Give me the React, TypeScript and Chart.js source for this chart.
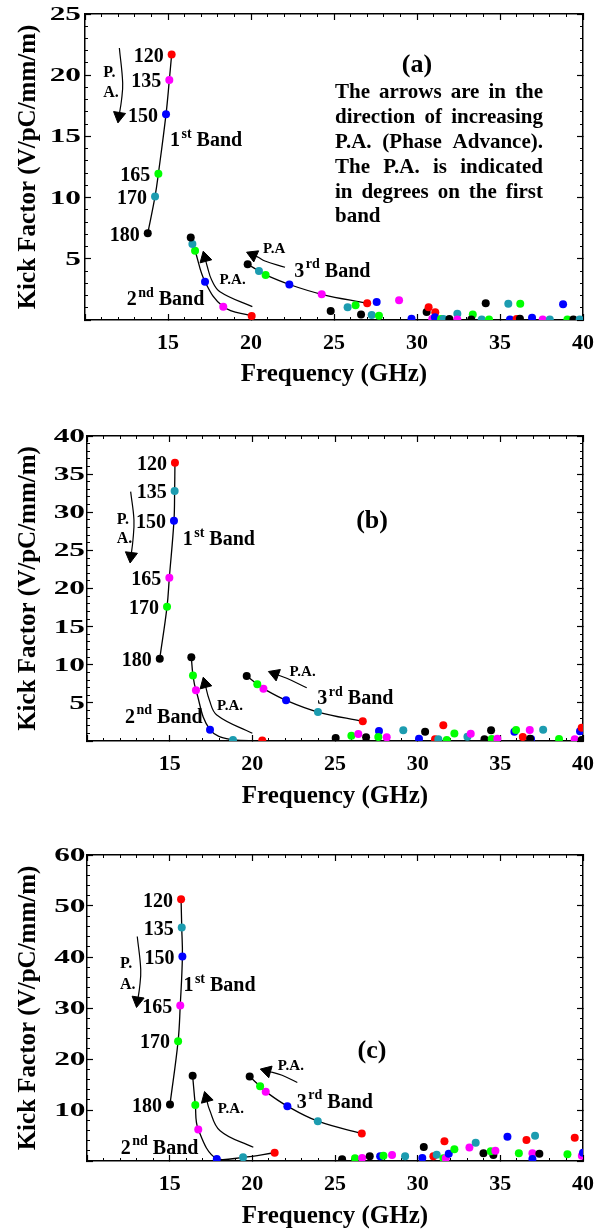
import React, { useEffect, useRef } from "react";
import { Chart, registerables } from "chart.js";

Chart.register(...registerables);

const SERIF = "'Liberation Serif', 'Times New Roman', Times, serif";

// ---------------- shared ----------------
const PA_DEG = [120, 135, 150, 165, 170, 180];
const BAND_ORD = ["1", "2", "3"];
const BAND_SUP = ["st", "nd", "rd"];
const X_TITLE = "Frequency (GHz)";
const Y_TITLE = "Kick Factor (V/pC/mm/m)";

const RED = "#ff0000";
const MAGENTA = "#ff00ff";
const BLUE = "#0000ff";
const GREEN = "#00ff00";
const TEAL = "#1c9cb0";
const BLACK = "#000000";

// ---------------- panel (a) ----------------
// band points in PA order 120,135,150,165,170,180
const A_B1_F = [15.22, 15.08, 14.88, 14.42, 14.22, 13.78];
const A_B1_K = [21.7, 19.6, 16.8, 11.95, 10.1, 7.08];
const A_B2_F = [20.04, 18.33, 17.23, 16.63, 16.47, 16.37];
const A_B2_K = [0.33, 1.09, 3.13, 5.66, 6.2, 6.73];
const A_B3_F = [27.0, 24.26, 22.31, 20.88, 20.48, 19.8];
const A_B3_K = [1.36, 2.1, 2.9, 3.68, 4.0, 4.55];
const A_PA_COLORS = [RED, MAGENTA, BLUE, GREEN, TEAL, BLACK];
// higher order modes
const A_HOM_F = [24.8, 25.82, 26.3, 26.63, 27.57, 27.27, 27.71, 28.92, 29.67, 30.58, 30.7, 31.1, 30.92, 31.08, 31.45, 31.59, 31.95, 32.43, 32.43, 33.36, 33.27, 33.9, 34.34, 34.14, 35.5, 36.22, 35.6, 36.0, 36.2, 36.93, 37.57, 38.0, 38.8, 39.06, 39.42, 39.8];
const A_HOM_K = [0.74, 1.04, 1.2, 0.44, 1.47, 0.41, 0.35, 1.61, 0.11, 0.65, 1.04, 0.63, 0.08, 0.22, 0.08, 0.08, 0.08, 0.52, 0.05, 0.44, 0.05, 0.05, 0.05, 1.36, 1.33, 1.33, 0.05, 0.08, 0.11, 0.19, 0.05, 0.05, 1.28, 0.05, 0.05, 0.05];
const A_HOM_PA = [180, 170, 165, 180, 150, 170, 165, 135, 150, 180, 120, 120, 135, 150, 165, 170, 180, 170, 135, 165, 180, 170, 165, 180, 170, 165, 150, 120, 180, 150, 135, 170, 150, 165, 180, 170];
// annotation arrows (curve points, last = arrow head)
const A_ARROW_1 = [[12.07, 22.22], [12.27, 19.36], [12.2, 17.97], [12.05, 16.67]];
const A_ARROW_2 = [[20.08, 1.09], [18.13, 2.31], [17.63, 3.27], [17.37, 4.35], [17.23, 5.07]];
const A_ARROW_3 = [[22.05, 4.31], [20.84, 4.82], [20.44, 5.12], [20.12, 5.31]];
const A_TAG = "(a)";
const A_TAG_AT = [30.0, 20.83];
const A_BAND_LABEL_AT = [[15.12, 14.62], [12.51, 1.63], [22.61, 3.95]];
const A_PA_TEXT = ["P.", "A.", "P.A.", "P.A"];
const A_PA_TEXT_AT = [[11.1, 20.18], [11.1, 18.55], [18.89, 3.27], [21.39, 5.78]];
const A_NOTE = [
  "The arrows are in the",
  "direction of increasing",
  "P.A. (Phase Advance).",
  "The P.A. is indicated",
  "in degrees on the first",
  "band",
];
const A_NOTE_AT = [25.06, 18.55, 37.59];

// ---------------- panel (b) ----------------
const B_B1_F = [15.32, 15.3, 15.26, 14.98, 14.84, 14.4];
const B_B1_K = [36.5, 32.8, 28.9, 21.4, 17.6, 10.8];
const B_B2_F = [20.6, 18.83, 17.44, 16.59, 16.41, 16.31];
const B_B2_K = [0.05, 0.13, 1.49, 6.65, 8.6, 11.0];
const B_B3_F = [26.68, 23.97, 22.04, 20.67, 20.3, 19.66];
const B_B3_K = [2.58, 3.8, 5.33, 6.86, 7.43, 8.52];
const BC_PA_COLORS = [RED, TEAL, BLUE, MAGENTA, GREEN, BLACK];
const B_HOM_F = [25.04, 25.99, 26.41, 26.88, 27.66, 27.62, 28.13, 29.13, 30.08, 30.45, 31.05, 31.25, 31.55, 31.76, 32.22, 33.01, 33.21, 34.04, 34.44, 34.48, 34.82, 35.85, 35.95, 36.36, 36.78, 36.86, 36.8, 37.59, 38.55, 39.5, 39.82, 39.92, 39.92];
const B_HOM_K = [0.39, 0.7, 0.92, 0.48, 1.31, 0.52, 0.48, 1.4, 0.3, 1.22, 0.22, 0.22, 2.05, 0.13, 1.0, 0.57, 0.96, 0.22, 1.4, 0.26, 0.3, 1.22, 1.44, 0.52, 1.44, 0.26, 0.3, 1.49, 0.26, 0.22, 1.27, 1.75, 0.13];
const B_HOM_PA = [180, 170, 165, 180, 150, 170, 165, 135, 150, 180, 120, 135, 120, 170, 170, 135, 165, 180, 180, 170, 165, 150, 170, 120, 165, 150, 180, 135, 170, 165, 150, 120, 180];
const B_ARROW_1 = [[12.64, 32.7], [12.84, 28.98], [12.78, 26.36], [12.66, 24.26]];
const B_ARROW_2 = [[20.0, 1.01], [17.85, 3.41], [17.4, 5.38], [17.14, 7.48]];
const B_ARROW_3 = [[23.29, 6.99], [22.08, 8.22], [21.37, 8.79]];
const B_TAG = "(b)";
const B_TAG_AT = [27.24, 28.85];
const B_BAND_LABEL_AT = [[15.79, 26.36], [12.3, 3.06], [23.93, 5.47]];
const B_PA_TEXT = ["P.", "A.", "P.A.", "P.A."];
const B_PA_TEXT_AT = [[11.8, 28.98], [11.8, 26.45], [18.65, 4.59], [23.04, 9.01]];

// ---------------- panel (c) ----------------
const C_B1_F = [15.69, 15.73, 15.77, 15.64, 15.51, 15.02];
const C_B1_K = [51.3, 45.8, 40.1, 30.5, 23.5, 11.1];
const C_B2_F = [21.35, 19.44, 17.85, 16.73, 16.55, 16.39];
const C_B2_K = [1.62, 0.72, 0.4, 6.2, 11.0, 16.7];
const C_B3_F = [26.62, 23.96, 22.12, 20.81, 20.47, 19.84];
const C_B3_K = [5.4, 7.8, 10.75, 13.6, 14.65, 16.55];
const C_HOM_F = [25.43, 26.21, 26.64, 27.1, 27.73, 27.93, 28.45, 29.24, 30.28, 30.37, 30.95, 31.15, 31.62, 31.56, 31.7, 31.88, 32.22, 33.13, 33.51, 33.98, 34.58, 34.42, 34.7, 35.43, 36.12, 36.58, 37.1, 36.94, 36.94, 37.36, 39.06, 39.5, 39.93, 40.0];
const C_HOM_K = [0.33, 0.52, 0.59, 0.92, 0.92, 1.04, 1.17, 0.92, 0.59, 2.74, 0.92, 1.23, 3.85, 0.52, 0.52, 1.43, 2.28, 2.67, 3.58, 1.5, 1.17, 1.9, 2.01, 4.75, 1.5, 4.1, 4.94, 1.5, 0.4, 1.43, 1.3, 4.55, 1.04, 1.62];
const C_HOM_PA = [180, 170, 165, 180, 150, 170, 165, 135, 150, 180, 120, 135, 120, 170, 165, 150, 170, 165, 135, 180, 180, 170, 165, 150, 170, 120, 135, 165, 150, 180, 170, 120, 165, 150];
const C_ARROW_1 = [[13.04, 44.03], [13.25, 37.52], [13.18, 34.0], [13.06, 31.46]];
const C_ARROW_2 = [[20.06, 2.68], [18.05, 5.92], [17.4, 10.16], [17.22, 12.31]];
const C_ARROW_3 = [[22.72, 15.38], [21.8, 16.81], [20.89, 17.65]];
const C_TAG = "(c)";
const C_TAG_AT = [27.24, 21.5];
const C_BAND_LABEL_AT = [[15.83, 34.26], [12.04, 2.48], [22.69, 11.47]];
const C_PA_TEXT = ["P.", "A.", "P.A.", "P.A."];
const C_PA_TEXT_AT = [[12.0, 38.7], [12.0, 34.6], [18.7, 10.16], [22.33, 18.62]];

const PA_TEXT_ALIGN = ["left", "left", "center", "center"];

type Panel = {
  key: string;
  top: number;
  height: number;
  padTop: number;
  axisLeft: number;
  xAxisH: number;
  xTitlePad: number;
  yMax: number;
  yMajor: number;
  yMinor: number;
  yLabGap: number;
  bands: number[][][];
  hom: number[][];
  colors: string[];
  arrows: number[][][];
  tag: string;
  tagAt: number[];
  bandLabelAt: number[][];
  paText: string[];
  paTextAt: number[][];
  note?: string[];
  noteAt?: number[];
};

const PANELS: Panel[] = [
  {
    key: "a", top: 0, height: 400, padTop: 14, axisLeft: 85, xAxisH: 80, xTitlePad: 12.5,
    yMax: 25, yMajor: 5, yMinor: 1, yLabGap: 4,
    bands: [[A_B1_F, A_B1_K], [A_B2_F, A_B2_K], [A_B3_F, A_B3_K]],
    hom: [A_HOM_F, A_HOM_K, A_HOM_PA], colors: A_PA_COLORS,
    arrows: [A_ARROW_1, A_ARROW_2, A_ARROW_3],
    tag: A_TAG, tagAt: A_TAG_AT, bandLabelAt: A_BAND_LABEL_AT,
    paText: A_PA_TEXT, paTextAt: A_PA_TEXT_AT, note: A_NOTE, noteAt: A_NOTE_AT,
  },
  {
    key: "b", top: 420, height: 400, padTop: 16, axisLeft: 87, xAxisH: 79, xTitlePad: 10.5,
    yMax: 40, yMajor: 5, yMinor: 1, yLabGap: 2,
    bands: [[B_B1_F, B_B1_K], [B_B2_F, B_B2_K], [B_B3_F, B_B3_K]],
    hom: [B_HOM_F, B_HOM_K, B_HOM_PA], colors: BC_PA_COLORS,
    arrows: [B_ARROW_1, B_ARROW_2, B_ARROW_3],
    tag: B_TAG, tagAt: B_TAG_AT, bandLabelAt: B_BAND_LABEL_AT,
    paText: B_PA_TEXT, paTextAt: B_PA_TEXT_AT,
  },
  {
    key: "c", top: 840, height: 390, padTop: 15, axisLeft: 87, xAxisH: 69, xTitlePad: 0.5,
    yMax: 60, yMajor: 10, yMinor: 2, yLabGap: 1.5,
    bands: [[C_B1_F, C_B1_K], [C_B2_F, C_B2_K], [C_B3_F, C_B3_K]],
    hom: [C_HOM_F, C_HOM_K, C_HOM_PA], colors: BC_PA_COLORS,
    arrows: [C_ARROW_1, C_ARROW_2, C_ARROW_3],
    tag: C_TAG, tagAt: C_TAG_AT, bandLabelAt: C_BAND_LABEL_AT,
    paText: C_PA_TEXT, paTextAt: C_PA_TEXT_AT,
  },
];

function buildScales(p: Panel) {
  // a tall line height pushes the labels down without inflating the side padding
  const tickFont = { family: SERIF, size: 22, weight: "bold" as const, lineHeight: 2.2 };
  const titleFont = { family: SERIF, size: 25, weight: "bold" as const, lineHeight: 1 };
  const major = { display: true, drawOnChartArea: false, drawTicks: true, tickLength: -6, tickColor: "#000", tickWidth: 1.2, color: "#000" };
  const minor = { ...major, tickLength: -3, tickWidth: 1 };
  const border = { display: true, color: "#000", width: 1.5 };
  const noBorder = { display: false };
  const hidden = (step: number) => ({ display: false, stepSize: step, autoSkip: false, maxTicksLimit: 200, padding: 0 });
  const zeroH = (s: any) => { s.height = 0; };
  const zeroW = (s: any) => { s.width = 0; };
  return {
    x: {
      type: "linear", axis: "x", position: "bottom", weight: 2, min: 10, max: 40,
      ticks: {
        stepSize: 5, autoSkip: false, maxRotation: 0, padding: 5, font: tickFont, color: "#000", maxTicksLimit: 200,
        callback: (v: number) => (v === 10 ? "" : String(v)),
      },
      grid: major, border,
      title: { display: true, text: X_TITLE, color: "#000", font: titleFont, padding: { top: 0, bottom: p.xTitlePad } },
      afterFit: (s: any) => { s.height = p.xAxisH; },
    },
    xm: { type: "linear", axis: "x", position: "bottom", weight: 1, min: 10, max: 40, ticks: hidden(1), grid: minor, border: noBorder, afterFit: zeroH },
    xt: { type: "linear", axis: "x", position: "top", weight: 1, min: 10, max: 40, ticks: hidden(5), grid: major, border, afterFit: zeroH },
    xtm: { type: "linear", axis: "x", position: "top", weight: 2, min: 10, max: 40, ticks: hidden(1), grid: minor, border: noBorder, afterFit: zeroH },
    y: {
      type: "linear", axis: "y", position: "left", weight: 2, min: 0, max: p.yMax,
      // tick labels are painted (horizontally widened) by the notes plugin from this scale's ticks
      ticks: { display: false, stepSize: p.yMajor, autoSkip: false, maxTicksLimit: 200, padding: 0 },
      grid: major, border,
      title: { display: true, text: Y_TITLE, color: "#000", font: titleFont, padding: { top: 16.5, bottom: 0 } },
      afterFit: (s: any) => { s.width = p.axisLeft; },
    },
    ym: { type: "linear", axis: "y", position: "left", weight: 1, min: 0, max: p.yMax, ticks: hidden(p.yMinor), grid: minor, border: noBorder, afterFit: zeroW },
    yr: { type: "linear", axis: "y", position: "right", weight: 1, min: 0, max: p.yMax, ticks: hidden(p.yMajor), grid: major, border, afterFit: zeroW },
    yrm: { type: "linear", axis: "y", position: "right", weight: 2, min: 0, max: p.yMax, ticks: hidden(p.yMinor), grid: minor, border: noBorder, afterFit: zeroW },
  };
}

function buildDatasets(p: Panel) {
  const datasets: any[] = [];
  // band curves
  p.bands.forEach(([fs, ks]) => {
    datasets.push({
      data: fs.map((f, i) => ({ x: f, y: ks[i] })),
      borderColor: "#000", borderWidth: 1.3, tension: 0.4, pointRadius: 0, showLine: true,
      fill: false, order: 2, xAxisID: "x", yAxisID: "y",
    });
  });
  // arrows
  p.arrows.forEach((path) => {
    const n = path.length;
    datasets.push({
      data: path.map(([f, k]) => ({ x: f, y: k })),
      borderColor: "#000", borderWidth: 1.2, tension: 0.4, showLine: true, fill: false,
      pointStyle: "triangle",
      pointRadius: (c: any) => (c.dataIndex === n - 1 ? 7 : 0),
      pointBackgroundColor: "#000", pointBorderColor: "#000", pointBorderWidth: 1,
      pointRotation: (c: any) => {
        const i = c.dataIndex;
        if (i === 0) return 0;
        const xs = c.chart.scales.x, ys = c.chart.scales.y;
        const dx = xs.getPixelForValue(path[i][0]) - xs.getPixelForValue(path[i - 1][0]);
        const dy = ys.getPixelForValue(path[i][1]) - ys.getPixelForValue(path[i - 1][1]);
        return (Math.atan2(dy, dx) * 180) / Math.PI + 90;
      },
      order: 2, clip: false, xAxisID: "x", yAxisID: "y",
    });
  });
  // mode points
  const pts: any[] = [];
  const cols: string[] = [];
  p.bands.forEach(([fs, ks]) => {
    fs.forEach((f, i) => { pts.push({ x: f, y: ks[i] }); cols.push(p.colors[i]); });
  });
  const [hf, hk, hpa] = p.hom;
  hf.forEach((f, i) => { pts.push({ x: f, y: hk[i] }); cols.push(p.colors[PA_DEG.indexOf(hpa[i])]); });
  datasets.push({
    data: pts, showLine: false, pointRadius: 4, pointStyle: "circle",
    pointBackgroundColor: cols, pointBorderColor: cols, pointBorderWidth: 0,
    order: 0, clip: 0, xAxisID: "x", yAxisID: "y",
  });
  return datasets;
}

function notesPlugin(p: Panel) {
  return {
    id: "notes_" + p.key,
    afterDraw(chart: any) {
      const ctx = chart.ctx as CanvasRenderingContext2D;
      const xs = chart.scales.x, ys = chart.scales.y;
      const X = (f: number) => xs.getPixelForValue(f);
      const Y = (k: number) => ys.getPixelForValue(k);
      ctx.save();
      ctx.fillStyle = "#000";
      ctx.textBaseline = "middle";

      // y tick labels, from the y scale's own ticks (wide lettering as in the original)
      ctx.font = `bold 19px ${SERIF}`;
      ctx.textAlign = "right";
      ys.ticks.forEach((t: any) => {
        if (t.value === 0) return;
        ctx.save();
        ctx.translate(chart.chartArea.left - p.yLabGap, ys.getPixelForValue(t.value) + 1);
        ctx.scale(1.65, 1);
        ctx.fillText(String(t.value), 0, 0);
        ctx.restore();
      });

      // phase advance values on the first band
      ctx.font = `bold 20px ${SERIF}`;
      ctx.textAlign = "right";
      const [f1, k1] = p.bands[0];
      f1.forEach((f, i) => ctx.fillText(String(PA_DEG[i]), X(f) - 8, Y(k1[i]) + 2));
      // band labels
      ctx.textAlign = "left";
      p.bandLabelAt.forEach(([f, k], i) => {
        let x = X(f);
        const y = Y(k);
        ctx.font = `bold 20px ${SERIF}`;
        ctx.fillText(BAND_ORD[i], x, y);
        x += ctx.measureText(BAND_ORD[i]).width + 1.5;
        ctx.font = `bold 14px ${SERIF}`;
        ctx.fillText(BAND_SUP[i], x, y - 7);
        x += ctx.measureText(BAND_SUP[i]).width;
        ctx.font = `bold 20px ${SERIF}`;
        ctx.fillText(" Band", x, y);
      });
      // panel tag
      ctx.font = `bold 26px ${SERIF}`;
      ctx.textAlign = "center";
      ctx.fillText(p.tag, X(p.tagAt[0]), Y(p.tagAt[1]));
      // P.A. labels near arrows
      p.paText.forEach((t, i) => {
        ctx.font = i < 2 ? `bold 16px ${SERIF}` : `bold 15px ${SERIF}`;
        ctx.textAlign = PA_TEXT_ALIGN[i] as CanvasTextAlign;
        ctx.fillText(t, X(p.paTextAt[i][0]), Y(p.paTextAt[i][1]));
      });
      // justified note
      if (p.note && p.noteAt) {
        ctx.font = `bold 21px ${SERIF}`;
        ctx.textAlign = "left";
        const x0 = X(p.noteAt[0]);
        const x1 = X(p.noteAt[2]);
        const y0 = Y(p.noteAt[1]);
        p.note.forEach((line, li) => {
          const y = y0 + li * 24.8;
          const words = line.split(" ");
          if (li === p.note!.length - 1 || words.length < 2) {
            ctx.fillText(line, x0, y);
            return;
          }
          const total = words.reduce((s, w) => s + ctx.measureText(w).width, 0);
          const gap = (x1 - x0 - total) / (words.length - 1);
          let x = x0;
          words.forEach((w) => {
            ctx.fillText(w, x, y);
            x += ctx.measureText(w).width + gap;
          });
        });
      }
      ctx.restore();
    },
  };
}

function PanelChart({ p }: { p: Panel }) {
  const ref = useRef<HTMLCanvasElement | null>(null);
  useEffect(() => {
    if (!ref.current) return;
    const chart = new Chart(ref.current, {
      type: "line",
      data: { datasets: buildDatasets(p) },
      options: {
        responsive: false,
        maintainAspectRatio: false,
        animation: false,
        devicePixelRatio: 1,
        events: [],
        layout: { autoPadding: false, padding: { top: p.padTop, right: 23, left: 0, bottom: 0 } },
        plugins: { legend: { display: false }, tooltip: { enabled: false } },
        scales: buildScales(p) as any,
      },
      plugins: [notesPlugin(p)],
    } as any);
    return () => chart.destroy();
  }, [p]);
  return (
    <canvas
      ref={ref}
      width={606}
      height={p.height}
      style={{ position: "absolute", left: 0, top: p.top, width: 606, height: p.height }}
    />
  );
}

export default function App() {
  return (
    <div style={{ position: "absolute", left: 0, top: 0, width: 606, height: 1230, background: "#fff", overflow: "hidden" }}>
      {PANELS.map((p) => (
        <PanelChart key={p.key} p={p} />
      ))}
    </div>
  );
}
